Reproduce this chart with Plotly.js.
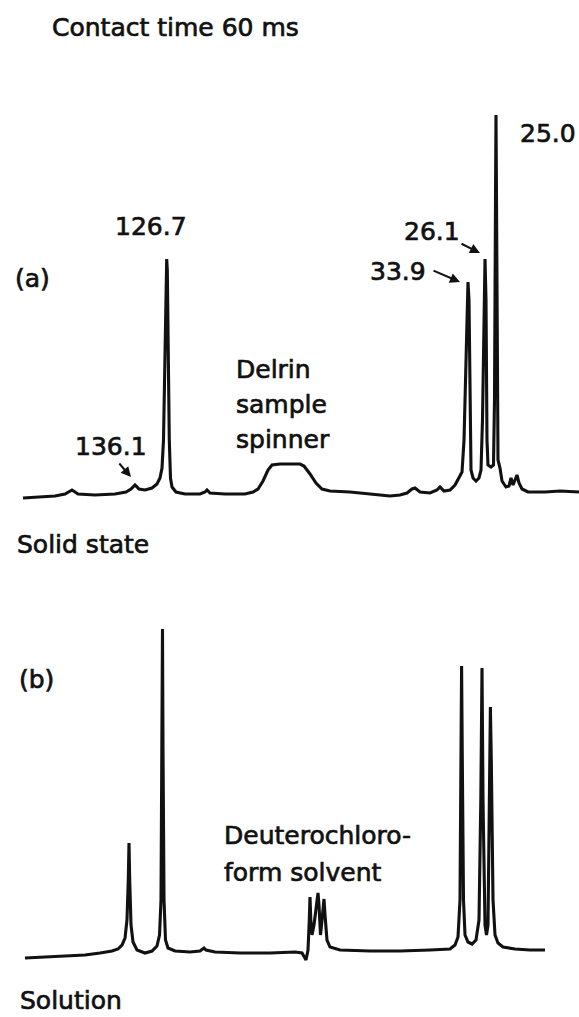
<!DOCTYPE html>
<html>
<head>
<meta charset="utf-8">
<script src="https://cdn.plot.ly/plotly-3.0.1.min.js"></script>
<style>
html,body{margin:0;padding:0;background:#fff;}
#chart{width:579px;height:1017px;}
#chart .annotation-text{stroke:#111;stroke-width:0.7px;}
</style>
</head>
<body>
<div id="chart"></div>
<script>
// ---- Data: traced 13C spectra (chemical shift in ppm, relative intensity) ----
// (a) Solid state, contact time 60 ms
const solidShift = [171.09,165.84,161.2,158.11,155.95,154.1,148.84,142.66,139.27,137.72,136.48,135.25,133.39,131.23,129.69,128.76,128.14,127.68,127.21,126.84,126.69,126.5,126.2,125.89,125.52,125.05,123.82,121.03,116.4,114.85,114.24,113.31,108.67,102.49,100.02,98.48,96.93,95.39,94.15,91.68,85.5,84.26,82.41,80.56,78.7,76.23,70.05,63.87,57.69,54.6,52.44,50.89,49.96,48.42,45.33,43.17,42.24,41.0,39.15,37.6,36.37,35.44,34.82,34.21,33.74,33.59,33.28,32.97,32.66,32.04,31.12,30.19,29.57,29.11,28.64,28.33,28.03,27.72,27.41,26.48,25.71,25.4,25.09,24.94,24.78,24.47,24.32,23.7,23.08,21.85,20.92,20.3,19.68,19.06,18.45,17.83,16.9,15.05,9.79,5.16,-0.71];
const solidInt = [-0.75,-0.5,-0.25,0.25,1.25,0.25,0,0.25,0.75,1.5,2.5,1.5,1.25,1.75,2.75,4.25,6.75,13.75,33.75,56.25,59,56.25,33.75,13.75,4.25,2,0.75,0.25,0.25,0.75,1.25,0.5,0.25,0.25,0.75,1.5,3.5,6.25,7.5,7.75,7.75,7.25,5.25,3,1.5,1,0.75,0.25,-0.25,0,0.5,1.5,1.75,0.75,0.5,1.25,2,1,1.25,2.5,4.5,5.75,13.75,36.25,51.25,53.25,48.75,23.75,6.25,4.25,3.5,4.25,6.25,18.75,48.75,59,48.75,13.75,7.5,7,7.5,23.75,73.75,95,73.75,23.75,8.75,6.75,3.5,2,2.25,4.25,2.5,3.75,5,3,1.5,0.75,0.75,1,0.75];

// (b) Solution in deuterochloroform
const solnShift = [170.48,164.29,158.11,151.93,147.3,143.59,141.74,140.5,139.57,138.96,138.56,138.34,138.12,137.72,137.1,135.87,133.39,131.23,129.69,128.91,128.45,128.14,127.99,127.83,127.52,127.06,126.29,124.12,119.49,116.4,115.16,114.55,111.76,104.04,94.77,87.04,84.88,83.65,83.03,82.63,82.41,82.16,81.79,81.17,80.25,79.94,79.63,79.17,78.7,78.24,78.08,77.77,77.16,76.23,73.14,63.87,54.6,45.33,39.15,37.6,36.68,36.06,35.75,35.57,35.35,34.98,34.51,33.59,32.35,31.12,30.19,29.63,29.26,28.95,28.33,27.87,27.41,26.94,26.67,26.39,25.86,25.24,24.32,22.77,19.06,14.43,9.79];
const solnInt = [-1.5,-1.25,-1,-0.75,-0.25,0.25,0.75,1.75,3.5,8,18,27.25,18,6.75,2.5,0.5,-0.25,0.25,1.5,4.25,13,50.5,80.75,50.5,13,3,1,0.25,0,0.25,1,0.5,0,-0.25,-0.25,0,-0.25,-2,0.5,8,13.75,8,4.25,6.75,13,14.75,11.75,4.25,8,12.25,13.25,9.25,3,1.25,0.5,0.25,0.25,0.5,0.75,1.75,3.75,13,48,71.5,48,13,4.25,2.5,2,3,8,38,71,38,6.75,4.25,6.75,48,61.25,48,13,4.25,2.25,1.25,0.75,0.5,0.5];

// Text labels
const titleText = 'Contact time 60 ms';
const panelLabels = ['(a)', '(b)'];
const stateLabels = ['Solid state', 'Solution'];
const peakLabels = ['25.0', '126.7', '26.1', '33.9', '136.1'];
const spinnerLines = ['Delrin', 'sample', 'spinner'];
const solventLines = ['Deuterochloro-', 'form solvent'];

// ---- Layout helpers (page pixel -> paper fraction) ----
const W = 579, H = 1017;
const px = v => v / W;
const py = v => 1 - v / H;
const FONT = {family: 'DejaVu Sans, sans-serif', size: 25, color: '#111'};

function label(text, x, y) {
  return {text: text, xref: 'paper', yref: 'paper', x: px(x), y: py(y),
          xanchor: 'left', yanchor: 'middle', showarrow: false, font: FONT};
}
function arrow(tipX, tipY, dx, dy) {
  return {text: '', xref: 'paper', yref: 'paper', x: px(tipX), y: py(tipY),
          showarrow: true, ax: dx, ay: dy, arrowhead: 2, arrowsize: 1,
          arrowwidth: 2, arrowcolor: '#111'};
}

const line = {color: '#111', width: 3.1};
const traces = [
  {x: solidShift, y: solidInt, xaxis: 'x', yaxis: 'y', mode: 'lines', line: line, hoverinfo: 'skip'},
  {x: solnShift, y: solnInt, xaxis: 'x2', yaxis: 'y2', mode: 'lines', line: line, hoverinfo: 'skip'}
];

const hidden = {showgrid: false, zeroline: false, showticklabels: false, showline: false, ticks: ''};

const annotations = [
  label(titleText, 50, 27),
  label(peakLabels[0], 518, 133),
  label(peakLabels[1], 113, 226),
  label(panelLabels[0], 13, 278),
  label(peakLabels[2], 402, 232),
  label(peakLabels[3], 368, 272),
  label(peakLabels[4], 73, 446),
  label(spinnerLines[0], 234, 369),
  label(spinnerLines[1], 234, 404),
  label(spinnerLines[2], 234, 439),
  label(stateLabels[0], 15, 544),
  label(panelLabels[1], 17, 679),
  label(solventLines[0], 222, 835),
  label(solventLines[1], 222, 872),
  label(stateLabels[1], 18, 1000),
  arrow(131, 477, -13, -15),
  arrow(460, 282, -28, -12),
  arrow(480, 253, -20, -10)
];

const layout = {
  width: W, height: H,
  margin: {l: 0, r: 0, t: 0, b: 0, pad: 0},
  paper_bgcolor: '#fff', plot_bgcolor: '#fff',
  showlegend: false,
  xaxis: Object.assign({domain: [0, 1], range: [178.2, -0.71], anchor: 'y'}, hidden),
  yaxis: Object.assign({domain: [1 - 520 / H, 1], range: [-6.25, 123.75], anchor: 'x'}, hidden),
  xaxis2: Object.assign({domain: [0, 1], range: [178.2, -0.71], anchor: 'y2'}, hidden),
  yaxis2: Object.assign({domain: [0, 457 / H], range: [-16.25, 98], anchor: 'x2'}, hidden),
  annotations: annotations
};

Plotly.newPlot('chart', traces, layout, {staticPlot: true, displayModeBar: false});
</script>
</body>
</html>
